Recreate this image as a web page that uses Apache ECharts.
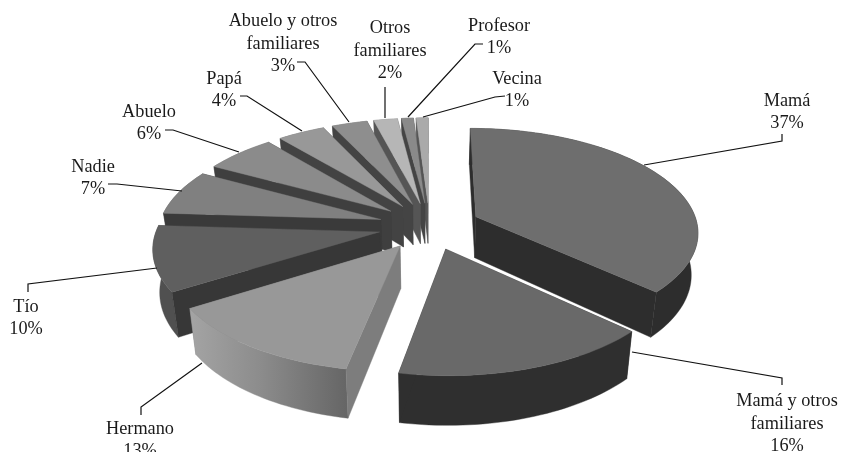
<!DOCTYPE html>
<html>
<head>
<meta charset="utf-8">
<script src="https://cdn.jsdelivr.net/npm/echarts@6/dist/echarts.min.js"></script>
<style>html,body{margin:0;padding:0;background:#fff}#c{width:841px;height:452px}</style>
</head>
<body>
<div id="c"></div>
<script>
// Data
const categories = ['Mamá','Mamá y otros\nfamiliares','Hermano','Tío','Nadie','Abuelo','Papá','Abuelo y otros\nfamiliares','Otros\nfamiliares','Profesor','Vecina'];
const percentages = [37,16,13,10,7,6,4,3,2,1,1];

// Styles
const topColors  = ['#6e6e6e','#696969','#989898','#5f5f5f','#808080','#8b8b8b','#989898','#8e8e8e','#b6b6b6','#8a8a8a','#aaaaaa'];
const rimColors  = ['#2d2d2d','#2f2f2f',null,'#505050','#6a6a6a','#707070','#777777','#777777','#8a8a8a','#707070','#808080'];
const wallColors = ['#2d2d2d','#2f2f2f','#7d7d7d','#373737','#3a3a3a','#3f3f3f','#434343','#444444','#555555','#444444','#555555'];
const drawRank   = [9,10,8,7,6,5,4,3,2,1,0];

// Layout: [label centre x, label centre y], leader-line vertices
const labelCentres = [[787,112],[787,424],[140,440],[26,318],[93,178],[149,123],[224,90],[283,44],[390,51],[499,37],[517,90]];
const leaders = [
  [[644,165],[782,141],[782,134]],
  [[632,352],[782,378],[782,385]],
  [[202,363],[141,407],[141,415]],
  [[157,268],[28,284],[28,292]],
  [[182,191],[117,184],[108,184]],
  [[239,152],[173,130],[165,130]],
  [[302,131],[247,96],[240,96]],
  [[349,122],[305,62],[297,62]],
  [[385,118],[385,87]],
  [[408,117],[475,44],[483,44]],
  [[423,117],[495,97],[505,96]]
];

// 3-D projection settings
const cx = 429.5, cy = 226, rx = 222, ry = 102.6, persp = 0.135, thick = 41.5, shrink = 0.975, explode = 0.23;
const total = percentages.reduce((a,b)=>a+b,0);
const rad = d => d*Math.PI/180;

function project(u, v, low) {
  const s = 1/(1+persp*v);
  let x = cx + rx*u*s, y = cy - ry*v*s;
  if (low) { x = cx + (x-cx)*shrink; y += thick*s; }
  return [x,y];
}

function renderItem(params, api) {
  const i = params.dataIndex;
  const value = api.value(1);
  let before = 0;
  for (let k=0;k<i;k++) before += percentages[k];
  const a0 = before/total*360, a1 = (before+value)/total*360, mid = (a0+a1)/2;
  const ex = explode*Math.sin(rad(mid)), ey = explode*Math.cos(rad(mid));
  const pt = (a,low) => project(ex+Math.sin(rad(a)), ey+Math.cos(rad(a)), low);
  const apex = low => project(ex, ey, low);
  const topArc = [], lowArc = [];
  for (let a=a0;;a+=1.5) {
    const t = Math.min(a,a1);
    topArc.push(pt(t,false)); lowArc.push(pt(t,true));
    if (t>=a1) break;
  }
  const z = drawRank[i]*10;
  const poly = (points, fill, zz) => ({type:'polygon',shape:{points},z2:z+zz,
    style:{fill,stroke:fill,lineWidth:0.4},silent:true});
  const wall = a => [apex(false),pt(a,false),pt(a,true),apex(true)];
  const nearWall = a0 >= 180 ? a0 : a1, farWall = a0 >= 180 ? a1 : a0;
  let rimFill = rimColors[i];
  if (!rimFill) {
    const xs = topArc.map(p=>p[0]);
    rimFill = new echarts.graphic.LinearGradient(Math.max(...xs),0,Math.min(...xs),0,
      [{offset:0,color:'#666666'},{offset:0.55,color:'#8c8c8c'},{offset:1,color:'#a4a4a4'}],true);
  }
  const kids = [
    poly(wall(farWall),wallColors[i],0),
    poly(topArc.concat(lowArc.slice().reverse()),rimFill,1),
    poly(wall(nearWall),wallColors[i],2),
    poly([apex(false)].concat(topArc),topColors[i],3),
    {type:'polyline',shape:{points:leaders[i]},z2:500,silent:true,
      style:{fill:null,stroke:'#111',lineWidth:1.2}},
    {type:'text',x:labelCentres[i][0],y:labelCentres[i][1],z2:501,silent:true,
      style:{text:categories[i]+'\n'+value+'%',fill:'#1a1a1a',align:'center',verticalAlign:'middle',
        font:'18.3px "Liberation Serif", serif',lineHeight:22.5}}
  ];
  return {type:'group',children:kids};
}

const chart = echarts.init(document.getElementById('c'),null,{renderer:'canvas'});
chart.setOption({
  animation:false,
  backgroundColor:'#ffffff',
  series:[{type:'custom',coordinateSystem:'none',renderItem,clip:false,
    data:percentages.map((v,i)=>[i,v])}]
});
</script>
</body>
</html>
